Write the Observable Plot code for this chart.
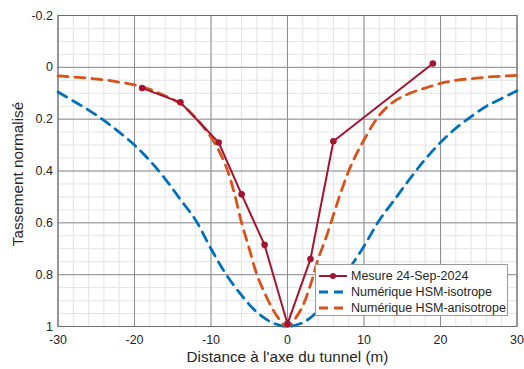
<!DOCTYPE html>
<html>
<head>
<meta charset="utf-8">
<script src="https://cdn.jsdelivr.net/npm/d3@7"></script>
<script src="https://cdn.jsdelivr.net/npm/@observablehq/plot@0.6"></script>
<style>
  html, body { margin: 0; padding: 0; background: #fff; }
  #wrap { position: relative; width: 524px; height: 369px; font-family: "Liberation Sans", Arial, sans-serif; }
  #legend { position: absolute; left: 315px; top: 264px; width: 193px; height: 52px; background: #fff; border: 1px solid #9a9a9a; box-sizing: border-box; font-size: 12.5px; color: #262626; }
  #legend .row { position: absolute; left: 0; height: 16px; display: flex; align-items: center; }
  #legend svg { display: block; margin-left: 2px; margin-right: 3px; }
</style>
</head>
<body>
<div id="wrap"></div>
<script>
// Measured data
const mesX = [-19, -14, -9, -6, -3, 0, 3, 6, 19];
const mesY = [0.08, 0.135, 0.29, 0.49, 0.685, 0.99, 0.74, 0.285, -0.015];

// Numerical HSM-isotrope
const isoX = [-30, -28, -26, -24, -22, -20, -18, -16, -14, -12, -10, -8, -6, -4, -2, 0, 2, 4, 6, 8, 10, 12, 14, 16, 18, 20, 22, 24, 26, 28, 30];
const isoY = [0.095, 0.13, 0.165, 0.205, 0.25, 0.30, 0.36, 0.43, 0.51, 0.59, 0.70, 0.80, 0.88, 0.945, 0.985, 1.0, 0.985, 0.94, 0.86, 0.78, 0.69, 0.59, 0.51, 0.43, 0.355, 0.29, 0.235, 0.19, 0.15, 0.12, 0.09];

// Numerical HSM-anisotrope
const aniX = [-30, -28, -26, -24, -22, -20, -18, -16, -14, -12, -10, -9, -8, -7, -6, -5, -4, -3, -2, -1, 0, 1, 2, 3, 4, 5, 6, 7, 8, 9, 10, 12, 14, 16, 18, 20, 22, 24, 26, 28, 30];
const aniY = [0.033, 0.037, 0.042, 0.048, 0.057, 0.068, 0.085, 0.11, 0.14, 0.195, 0.27, 0.32, 0.385, 0.48, 0.60, 0.70, 0.80, 0.87, 0.93, 0.975, 1.0, 0.97, 0.92, 0.84, 0.74, 0.66, 0.57, 0.48, 0.40, 0.335, 0.28, 0.185, 0.13, 0.10, 0.08, 0.062, 0.05, 0.044, 0.038, 0.034, 0.031];

// Ticks and labels
const xTicks = [-30, -20, -10, 0, 10, 20, 30];
const xTickLabels = ["-30", "-20", "-10", "0", "10", "20", "30"];
const yTicks = [-0.2, 0, 0.2, 0.4, 0.6, 0.8, 1];
const yTickLabels = ["-0.2", "0", "0.2", "0.4", "0.6", "0.8", "1"];
const xMinor = d3.range(-30, 31, 2);
const yMinor = d3.range(-0.2, 1.0001, 0.05).map(v => +v.toFixed(2));

const xLabel = "Distance à l'axe du tunnel (m)";
const yLabel = "Tassement normalisé";
const seriesNames = ["Mesure 24-Sep-2024", "Numérique HSM-isotrope", "Numérique HSM-anisotrope"];
const colors = ["#A2142F", "#0072BD", "#D95319"];

const mes = mesX.map((x, i) => ({x, y: mesY[i]}));
const iso = isoX.map((x, i) => ({x, y: isoY[i]}));
const ani = aniX.map((x, i) => ({x, y: aniY[i]}));

const chart = Plot.plot({
  width: 524,
  height: 369,
  marginLeft: 57.5,
  marginRight: 7.5,
  marginTop: 15,
  marginBottom: 43,
  style: {fontFamily: "Liberation Sans, Arial, sans-serif", fontSize: "12.5px", color: "#262626", background: "#fff"},
  x: {domain: [-30, 30]},
  y: {domain: [-0.2, 1], reverse: true},
  marks: [
    Plot.ruleX(xMinor, {stroke: "#e3e3e3", strokeWidth: 1}),
    Plot.ruleY(yMinor, {stroke: "#e3e3e3", strokeWidth: 1}),
    Plot.ruleX(xTicks, {stroke: "#8c8c8c", strokeWidth: 1}),
    Plot.ruleY(yTicks, {stroke: "#8c8c8c", strokeWidth: 1}),
    Plot.frame({stroke: "#6e6e6e"}),
    Plot.axisX(xTicks, {tickSize: 0, tickPadding: 9, tickFormat: (d) => xTickLabels[xTicks.indexOf(d)], label: null, fontSize: 12.5}),
    Plot.axisY(yTicks, {tickSize: 0, tickPadding: 5, tickFormat: (d) => yTickLabels[yTicks.indexOf(d)], label: null, fontSize: 12.5}),
    Plot.line(iso, {x: "x", y: "y", stroke: colors[1], strokeWidth: 2.8, strokeDasharray: "10,7", curve: "catmull-rom"}),
    Plot.line(ani, {x: "x", y: "y", stroke: colors[2], strokeWidth: 2.8, strokeDasharray: "10,7", curve: "catmull-rom"}),
    Plot.line(mes, {x: "x", y: "y", stroke: colors[0], strokeWidth: 2}),
    Plot.dot(mes, {x: "x", y: "y", fill: colors[0], r: 3.3}),
    Plot.text([yLabel], {frameAnchor: "left", dx: -40, dy: 3, rotate: -90, textAnchor: "middle", lineAnchor: "middle", fontSize: 15.3, fill: "#262626"}),
    Plot.text([xLabel], {frameAnchor: "bottom", dy: 31, textAnchor: "middle", lineAnchor: "middle", fontSize: 15.3, fill: "#262626"})
  ]
});

const wrap = document.getElementById("wrap");
wrap.appendChild(chart);

const legend = document.createElement("div");
legend.id = "legend";
const rowsY = [3, 19, 35];
seriesNames.forEach((name, i) => {
  const row = document.createElement("div");
  row.className = "row";
  row.style.top = rowsY[i] + "px";
  let sample;
  if (i === 0) {
    sample = `<svg width="30" height="16"><line x1="1" y1="8" x2="29" y2="8" stroke="${colors[i]}" stroke-width="2"/><circle cx="15" cy="8" r="3" fill="${colors[i]}"/></svg>`;
  } else {
    sample = `<svg width="30" height="16"><line x1="1" y1="8" x2="29" y2="8" stroke="${colors[i]}" stroke-width="2.8" stroke-dasharray="9,6"/></svg>`;
  }
  row.innerHTML = sample + `<span>${name}</span>`;
  legend.appendChild(row);
});
wrap.appendChild(legend);
</script>
</body>
</html>
